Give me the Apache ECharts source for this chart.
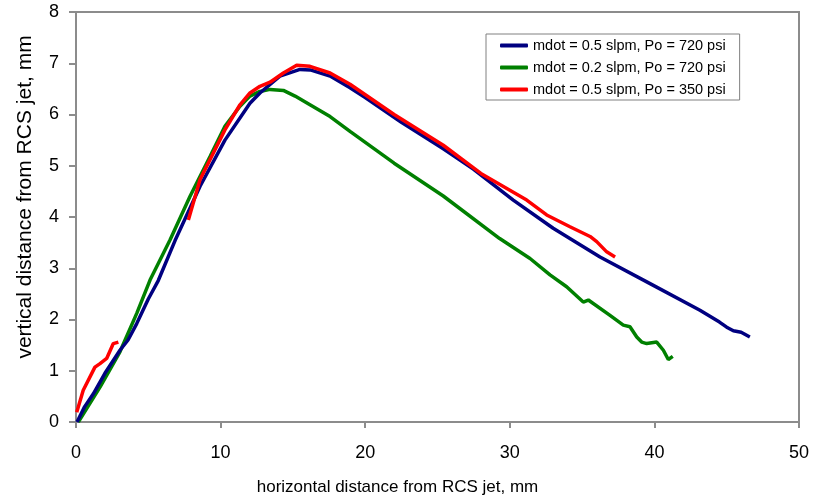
<!DOCTYPE html>
<html>
<head>
<meta charset="utf-8">
<script src="https://cdn.jsdelivr.net/npm/echarts@6/dist/echarts.min.js"></script>
<style>
  html, body { margin: 0; padding: 0; background: #fff; }
  #chart { width: 820px; height: 503px; }
</style>
</head>
<body>
<div id="chart"></div>
<script>
// series names
var names = [
  'mdot = 0.5 slpm, Po = 720 psi',
  'mdot = 0.2 slpm, Po = 720 psi',
  'mdot = 0.5 slpm, Po = 350 psi'
];

// blue: 0.5 slpm, 720 psi
var blueX = [0.07, 0.6, 1.2, 2.0, 3.04, 3.6, 4.2, 5.0, 5.69, 6.85, 8.58, 10.3, 12.03, 12.72, 14.1, 15.49, 16.2, 17.57, 18.95, 20, 22.5, 25.4, 27.5, 30.24, 33, 36.24, 39.7, 43.15, 44.5, 45.0, 45.46, 46.0, 46.6];
var blueY = [0, 0.3, 0.55, 0.95, 1.4, 1.6, 1.92, 2.4, 2.76, 3.54, 4.6, 5.5, 6.22, 6.42, 6.75, 6.88, 6.87, 6.75, 6.52, 6.33, 5.85, 5.33, 4.93, 4.33, 3.78, 3.22, 2.7, 2.18, 1.95, 1.85, 1.78, 1.75, 1.66];

// green: 0.2 slpm, 720 psi
var greenX = [0.16, 1.66, 3.04, 4.2, 5.12, 6.5, 7.88, 9.27, 10.3, 11.34, 12.03, 12.72, 13.42, 14.34, 15.15, 16.18, 17.57, 18.95, 22, 25.4, 29.3, 31.4, 32.78, 33.93, 35.08, 35.43, 36.93, 37.85, 38.31, 38.78, 39.12, 39.47, 40.16, 40.62, 40.96, 41.27];
var greenY = [0, 0.68, 1.37, 2.12, 2.77, 3.55, 4.4, 5.18, 5.77, 6.16, 6.36, 6.45, 6.49, 6.47, 6.36, 6.19, 5.96, 5.67, 5.05, 4.41, 3.58, 3.19, 2.87, 2.64, 2.34, 2.38, 2.08, 1.89, 1.86, 1.66, 1.56, 1.53, 1.56, 1.40, 1.22, 1.28];

// red: 0.5 slpm, 350 psi (two pieces)
var redAX = [0.05, 0.5, 1.31, 1.66, 2.12, 2.58, 2.93];
var redAY = [0.19, 0.62, 1.07, 1.14, 1.24, 1.53, 1.56];
var redBX = [7.77, 8.58, 10.3, 11.34, 12.03, 12.72, 13.42, 14.34, 15.26, 16.18, 17.57, 18.95, 22, 25.4, 28, 31.17, 32.55, 34.16, 35.55, 36.01, 36.7, 37.28];
var redBY = [3.94, 4.73, 5.70, 6.19, 6.42, 6.55, 6.63, 6.81, 6.96, 6.94, 6.81, 6.59, 6.0, 5.4, 4.85, 4.33, 4.04, 3.81, 3.62, 3.52, 3.32, 3.22];

function pairs(xs, ys) {
  var out = [];
  for (var i = 0; i < xs.length; i++) out.push([xs[i], ys[i]]);
  return out;
}

var font = '"Liberation Sans", Arial, sans-serif';

var mychart = echarts.init(document.getElementById('chart'));

function line(name, color, data, z) {
  return {
    name: name,
    type: 'line',
    showSymbol: false,
    symbol: 'none',
    data: data,
    z: z,
    lineStyle: { color: color, width: 3.5 },
    itemStyle: { color: color },
    animation: false
  };
}

var option = {
  backgroundColor: '#fff',
  grid: {
    left: 76, right: 21, top: 12, bottom: 81,
    show: true, borderColor: '#8c8c8c', borderWidth: 2, backgroundColor: 'transparent'
  },
  legend: {
    data: names,
    orient: 'vertical',
    left: 486, top: 34,
    padding: [4, 14, 3, 14],
    itemGap: 7,
    itemWidth: 28,
    itemHeight: 4,
    icon: 'roundRect',
    borderColor: '#808080',
    borderWidth: 1,
    backgroundColor: '#fff',
    textStyle: { fontFamily: font, fontSize: 14.5, color: '#000', lineHeight: 15 }
  },
  xAxis: {
    type: 'value',
    min: 0, max: 50, interval: 10,
    name: 'horizontal distance from RCS jet, mm',
    nameLocation: 'middle',
    nameGap: 57,
    nameTextStyle: { fontFamily: font, fontSize: 17, color: '#000', padding: [0, 80, 0, 0] },
    axisLine: { lineStyle: { color: '#8c8c8c', width: 2 } },
    axisTick: { show: true, length: 6, lineStyle: { color: '#8c8c8c', width: 2 } },
    axisLabel: { fontFamily: font, fontSize: 18, color: '#000', margin: 22 },
    splitLine: { show: false }
  },
  yAxis: {
    type: 'value',
    min: 0, max: 8, interval: 1,
    name: 'vertical distance from RCS jet, mm',
    nameLocation: 'middle',
    nameGap: 40,
    nameTextStyle: { fontFamily: font, fontSize: 21, color: '#000', padding: [0, 0, 0, 40] },
    axisLine: { show: true, lineStyle: { color: '#8c8c8c', width: 2 } },
    axisTick: { show: true, length: 7, lineStyle: { color: '#8c8c8c', width: 2 } },
    axisLabel: { fontFamily: font, fontSize: 18, color: '#000', margin: 17 },
    splitLine: { show: false }
  },
  series: [
    line(names[0], '#000080', pairs(blueX, blueY), 3),
    line(names[1], '#008000', pairs(greenX, greenY), 2),
    line(names[2], '#ff0000', pairs(redAX, redAY), 4),
    line(names[2], '#ff0000', pairs(redBX, redBY), 4)
  ]
};

mychart.setOption(option);
</script>
</body>
</html>
